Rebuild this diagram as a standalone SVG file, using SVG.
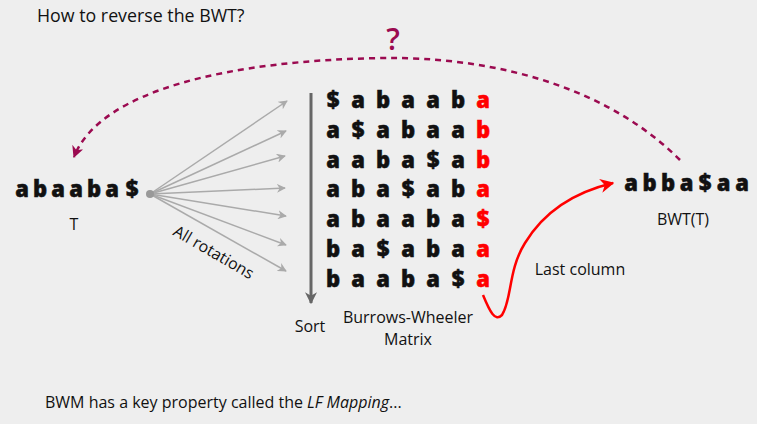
<svg xmlns="http://www.w3.org/2000/svg" width="757" height="424" viewBox="0 0 757 424">
<defs>
<style>
text{font-family:"Open Sans","Liberation Sans",sans-serif;fill:#111}
.m{font-size:22px;font-weight:800;text-anchor:middle;stroke:#111;stroke-width:0.5}
.r{fill:#f00;stroke:#f00}
.lbl{font-size:16px;text-anchor:middle}
.ray{stroke:#aaa;stroke-width:1.5;fill:none;marker-end:url(#ga)}
</style>
<marker id="ga" viewBox="0 0 10 10" refX="9" refY="5" markerWidth="9" markerHeight="9" markerUnits="userSpaceOnUse" orient="auto"><path d="M0,0 L10,5 L0,10 L3,5 Z" fill="#aaa"/></marker>
<marker id="sa" viewBox="0 0 10 10" refX="9" refY="5" markerWidth="12" markerHeight="12" markerUnits="userSpaceOnUse" orient="auto"><path d="M0,0 L10,5 L0,10 L3,5 Z" fill="#666"/></marker>
<marker id="ra" viewBox="0 0 10 10" refX="9" refY="5" markerWidth="14" markerHeight="14" markerUnits="userSpaceOnUse" orient="auto"><path d="M0,0 L10,5 L0,10 L3,5 Z" fill="#f00"/></marker>
<marker id="pa" viewBox="0 0 10 10" refX="9" refY="5" markerWidth="12" markerHeight="12" markerUnits="userSpaceOnUse" orient="auto"><path d="M0,0 L10,5 L0,10 L3,5 Z" fill="#9b0a50"/></marker>
</defs>
<rect width="757" height="424" fill="#eeeeee"/>
<text x="37" y="22" style="font-size:17.8px">How to reverse the BWT?</text>
<g id="connectors">
<path id="q-curve" d="M680,160 C600,80 480,57 385,58 C230,60 100,90 74,157" fill="none" stroke="#9b0a50" stroke-width="2.5" stroke-dasharray="6,5" marker-end="url(#pa)"/>
<g id="rotations">
<line class="ray" x1="150" y1="194" x2="287" y2="101"/>
<line class="ray" x1="150" y1="194" x2="286" y2="131"/>
<line class="ray" x1="150" y1="194" x2="285" y2="156"/>
<line class="ray" x1="150" y1="194" x2="285" y2="188"/>
<line class="ray" x1="150" y1="194" x2="286" y2="216"/>
<line class="ray" x1="150" y1="194" x2="286" y2="245"/>
<line class="ray" x1="150" y1="194" x2="286" y2="271"/>
</g>
<circle cx="150" cy="194" r="4" fill="#999"/>
<line id="sort-arrow" x1="311" y1="93" x2="311" y2="303" stroke="#666" stroke-width="3" marker-end="url(#sa)"/>
<path id="last-col" d="M483,295 C490,312 495,322 502,315 C512,300 508,270 525,243 C545,210 575,192 613,183" fill="none" stroke="#f00" stroke-width="2.5" marker-end="url(#ra)"/>
</g>
<text x="393" y="50" style="font-size:30px;font-weight:600;fill:#9b0a50;text-anchor:middle">?</text>
<g id="T">
<text class="m" x="22 40 58 76 94 112 132" y="197">abaaba$</text>
<text class="lbl" x="74" y="230">T</text>
</g>
<text class="lbl" transform="translate(211,257) rotate(30)">All rotations</text>
<g id="bwm">
<text class="m" x="333 358 383 408 433 458" y="108">$abaab</text><text class="m r" x="483" y="108">a</text>
<text class="m" x="333 358 383 408 433 458" y="137.8">a$abaa</text><text class="m r" x="483" y="137.8">b</text>
<text class="m" x="333 358 383 408 433 458" y="167.6">aaba$a</text><text class="m r" x="483" y="167.6">b</text>
<text class="m" x="333 358 383 408 433 458" y="197.4">aba$ab</text><text class="m r" x="483" y="197.4">a</text>
<text class="m" x="333 358 383 408 433 458" y="227.2">abaaba</text><text class="m r" x="483" y="227.2">$</text>
<text class="m" x="333 358 383 408 433 458" y="257">ba$aba</text><text class="m r" x="483" y="257">a</text>
<text class="m" x="333 358 383 408 433 458" y="286.8">baaba$</text><text class="m r" x="483" y="286.8">a</text>
<text class="lbl" x="408" y="323">Burrows-Wheeler</text>
<text class="lbl" x="408" y="345">Matrix</text>
</g>
<text class="lbl" x="310" y="332">Sort</text>
<g id="BWT">
<text class="m" x="631 649.5 668 686.5 705 723.5 742" y="191">abba$aa</text>
<text class="lbl" x="683" y="225">BWT(T)</text>
</g>
<text class="lbl" x="580" y="275">Last column</text>
<text x="45" y="408" style="font-size:16px">BWM has a key property called the <tspan font-style="italic">LF Mapping</tspan>...</text>
</svg>
